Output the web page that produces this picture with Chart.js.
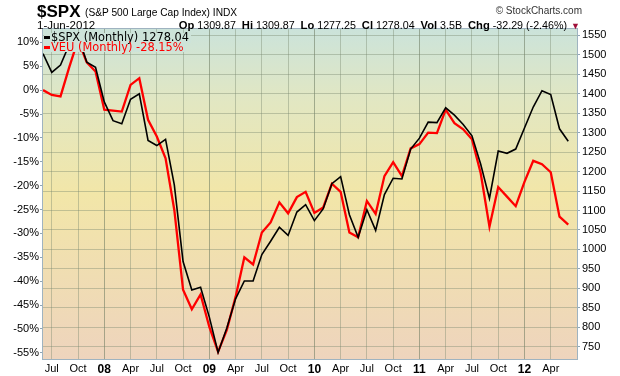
<!DOCTYPE html>
<html>
<head>
<meta charset="utf-8">
<script src="https://cdn.jsdelivr.net/npm/chart.js@4.4.1/dist/chart.umd.min.js"></script>
<style>
  body { margin: 0; background: #fff; }
  #wrap { position: relative; width: 620px; height: 376px; font-family: "Liberation Sans", Arial, sans-serif; color: #000; }
  .t { position: absolute; white-space: nowrap; }
  #sym { left: 37px; top: 3px; font-size: 17px; line-height: 17px; font-weight: bold; }
  #name { left: 85px; top: 7px; font-size: 10.2px; line-height: 11px; }
  #copy { right: 38px; top: 5px; font-size: 10px; line-height: 11px; color: #333; }
  #date { left: 37px; top: 19px; font-size: 11.5px; line-height: 12px; }
  #ohlc { right: 53px; top: 19px; font-size: 10.7px; line-height: 12px; }
  #ohlc b { font-size: 11.2px; }
  #tri { right: 40px; top: 20px; font-size: 9px; line-height: 12px; color: #a0103a; }
  #legend { left: 44px; top: 33px; font-family: "DejaVu Sans", Verdana, sans-serif; font-size: 11.4px; line-height: 9.6px; }
  #legend div span.bx { display: inline-block; width: 6px; height: 3px; margin-right: 1px; vertical-align: 2px; }
  #legend div { background: #cde3d9; display: table; padding-right: 2px; }
</style>
</head>
<body>
<div id="wrap">
  <canvas id="chart" width="620" height="376"></canvas>
  <div class="t" id="sym">$SPX</div>
  <div class="t" id="name">(S&amp;P 500 Large Cap Index) INDX</div>
  <div class="t" id="copy">© StockCharts.com</div>
  <div class="t" id="date">1-Jun-2012</div>
  <div class="t" id="ohlc"><b>Op</b> 1309.87 &nbsp;<b>Hi</b> 1309.87 &nbsp;<b>Lo</b> 1277.25 &nbsp;<b>Cl</b> 1278.04 &nbsp;<b>Vol</b> 3.5B &nbsp;<b>Chg</b> -32.29 (-2.46%)</div>
  <div class="t" id="tri">▼</div>
  <div class="t" id="legend">
    <div style="color:#000"><span class="bx" style="background:#000"></span>$SPX (Monthly) 1278.04</div>
    <div style="color:#f00"><span class="bx" style="background:#f00"></span>VEU (Monthly) -28.15%</div>
  </div>
</div>
<script>
const months = [
  'Jun 2007','Jul 2007','Aug 2007','Sep 2007','Oct 2007','Nov 2007','Dec 2007',
  'Jan 2008','Feb 2008','Mar 2008','Apr 2008','May 2008','Jun 2008','Jul 2008','Aug 2008','Sep 2008','Oct 2008','Nov 2008','Dec 2008',
  'Jan 2009','Feb 2009','Mar 2009','Apr 2009','May 2009','Jun 2009','Jul 2009','Aug 2009','Sep 2009','Oct 2009','Nov 2009','Dec 2009',
  'Jan 2010','Feb 2010','Mar 2010','Apr 2010','May 2010','Jun 2010','Jul 2010','Aug 2010','Sep 2010','Oct 2010','Nov 2010','Dec 2010',
  'Jan 2011','Feb 2011','Mar 2011','Apr 2011','May 2011','Jun 2011','Jul 2011','Aug 2011','Sep 2011','Oct 2011','Nov 2011','Dec 2011',
  'Jan 2012','Feb 2012','Mar 2012','Apr 2012','May 2012','Jun 2012'
];

// $SPX monthly close (right axis)
const spxClose = [
  1503, 1455, 1474, 1527, 1549, 1481, 1468,
  1379, 1331, 1323, 1386, 1400, 1280, 1267, 1283, 1166, 969, 896, 903,
  826, 735, 798, 873, 919, 919, 987, 1021, 1057, 1036, 1096, 1115,
  1074, 1104, 1169, 1187, 1089, 1031, 1102, 1049, 1141, 1183, 1181, 1258,
  1286, 1327, 1326, 1364, 1345, 1321, 1292, 1219, 1131, 1253, 1247, 1258,
  1312, 1366, 1408, 1398, 1310, 1278.04
];

// VEU monthly, % change (left axis)
const veuPct = [
  0, -1.0, -1.3, 4.8, 10.5, 5.8, 3.9,
  -4.1, -4.3, -4.5, 1.1, 2.5, -6.2, -9.7, -14.3, -25.1, -41.8, -45.9, -42.8,
  -49.6, -54.8, -50.2, -43.3, -35.0, -36.5, -29.8, -27.7, -23.5, -25.8, -22.4, -21.3,
  -25.7, -24.6, -19.6, -21.3, -29.8, -30.8, -23.2, -25.9, -18.0, -15.1, -18.0, -12.2,
  -11.3, -8.9, -9.0, -4.1, -6.9, -8.2, -10.3, -17.4, -28.6, -20.3, -22.3, -24.3,
  -19.2, -14.8, -15.5, -17.2, -26.5, -28.15
];

const pctTicks = [10, 5, 0, -5, -10, -15, -20, -25, -30, -35, -40, -45, -50, -55];
const priceTicks = [1550, 1500, 1450, 1400, 1350, 1300, 1250, 1200, 1150, 1100, 1050, 1000, 950, 900, 850, 800, 750];
const quarterMonths = ['Jan', 'Apr', 'Jul', 'Oct'];

const xTickIdx = [];
months.forEach((m, i) => { if (quarterMonths.includes(m.slice(0, 3))) xTickIdx.push(i); });
function xLabel(i) {
  const m = months[i];
  return m.startsWith('Jan') ? m.slice(-2) : m.slice(0, 3);
}

const bgPlugin = {
  id: 'bg',
  beforeDraw(chart) {
    const { ctx, chartArea: a } = chart;
    const g = ctx.createLinearGradient(0, a.top, 0, a.bottom);
    g.addColorStop(0, '#cbe3da');
    g.addColorStop(0.22, '#e2e7c2');
    g.addColorStop(0.5, '#f2e6a8');
    g.addColorStop(1, '#eed4bd');
    ctx.save();
    ctx.fillStyle = g;
    ctx.fillRect(a.left, a.top, a.right - a.left, a.bottom - a.top);
    ctx.restore();
  },
  afterDraw(chart) {
    const { ctx, chartArea: a } = chart;
    ctx.save();
    ctx.strokeStyle = '#9fb3c0';
    ctx.lineWidth = 1;
    ctx.strokeRect(a.left - 0.5, a.top - 0.5, a.right - a.left + 1, a.bottom - a.top + 1);
    ctx.restore();
  }
};

new Chart(document.getElementById('chart').getContext('2d'), {
  type: 'line',
  data: {
    datasets: [
      {
        label: '$SPX (Monthly)',
        data: spxClose.map((v, i) => ({ x: i, y: v })),
        yAxisID: 'y1',
        borderColor: '#000',
        borderWidth: 1.6,
        pointRadius: 0,
        tension: 0
      },
      {
        label: 'VEU (Monthly)',
        data: veuPct.map((v, i) => ({ x: i, y: v })),
        yAxisID: 'y',
        borderColor: '#ff0000',
        borderWidth: 2.3,
        pointRadius: 0,
        tension: 0
      }
    ]
  },
  options: {
    responsive: false,
    animation: false,
    layout: { padding: { top: 29, left: 0, right: 0, bottom: 0 } },
    plugins: { legend: { display: false }, tooltip: { enabled: false } },
    scales: {
      x: {
        type: 'linear',
        min: 0,
        max: 61,
        afterBuildTicks: (s) => { s.ticks = xTickIdx.map(v => ({ value: v })); },
        afterFit: (s) => { s.height = 17; },
        border: { display: false },
        grid: {
          drawTicks: false,
          color: (c) => (c.tick && months[c.tick.value] && months[c.tick.value].startsWith('Jan')) ? 'rgba(105,120,95,0.55)' : 'rgba(120,135,110,0.4)'
        },
        ticks: {
          autoSkip: false,
          maxRotation: 0,
          padding: 3,
          color: '#000',
          callback: (v) => xLabel(v),
          font: (c) => {
            const yr = c.tick && months[c.tick.value] && months[c.tick.value].startsWith('Jan');
            return { family: '"Liberation Sans", Arial, sans-serif', size: yr ? 12 : 11, weight: yr ? 'bold' : 'normal' };
          }
        }
      },
      y: {
        position: 'left',
        min: -56.3,
        max: 12.8,
        afterBuildTicks: (s) => { s.ticks = pctTicks.map(v => ({ value: v })); },
        afterFit: (s) => { s.width = 43; },
        border: { display: false },
        grid: { drawOnChartArea: false, tickLength: 3, tickColor: '#8fa5b5' },
        ticks: {
          padding: 1,
          color: '#000',
          font: { family: '"Liberation Sans", Arial, sans-serif', size: 11 },
          callback: (v) => v + '%'
        }
      },
      y1: {
        position: 'right',
        min: 718.4,
        max: 1566.5,
        afterBuildTicks: (s) => { s.ticks = priceTicks.map(v => ({ value: v })); },
        afterFit: (s) => { s.width = 43; },
        border: { display: false },
        grid: { color: 'rgba(120,135,110,0.4)', tickLength: 3, tickColor: '#8fa5b5' },
        ticks: {
          padding: 2,
          color: '#000',
          font: { family: '"Liberation Sans", Arial, sans-serif', size: 11 },
          callback: (v) => String(v)
        }
      }
    }
  },
  plugins: [bgPlugin]
});
</script>
</body>
</html>
